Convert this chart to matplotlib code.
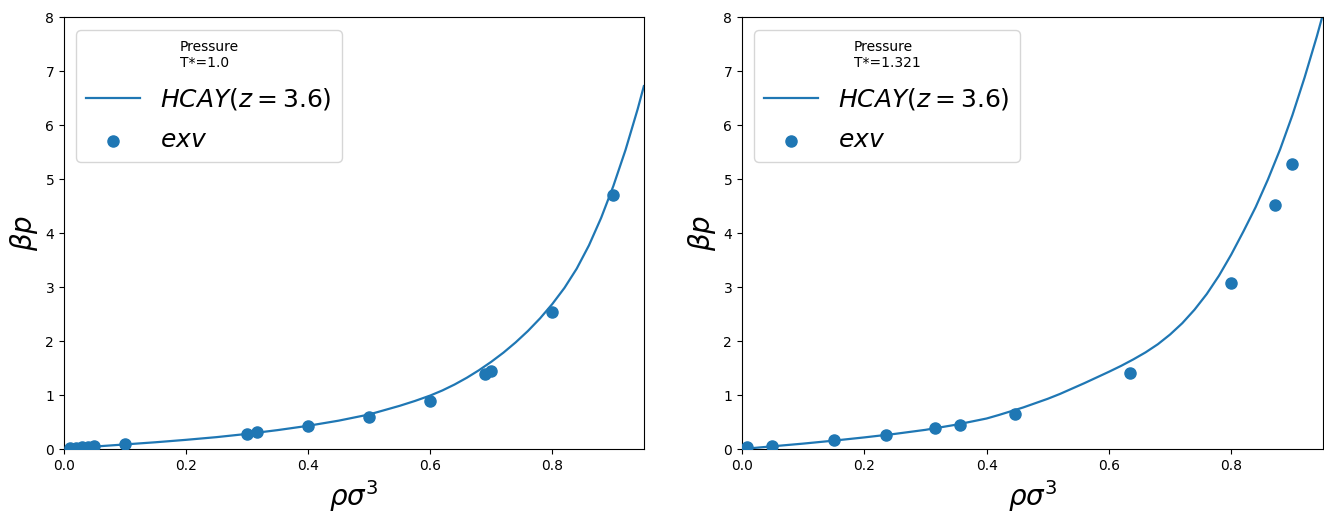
import matplotlib
matplotlib.use("Agg")
import matplotlib.pyplot as plt

# HCAY curve and simulation points, T*=1.0
rho_fit_1 = [0.0, 0.05, 0.1, 0.15, 0.2, 0.25, 0.3, 0.35, 0.4, 0.45, 0.5, 0.55,
             0.575, 0.6, 0.62, 0.64, 0.66, 0.68, 0.7, 0.72, 0.74, 0.76, 0.78,
             0.8, 0.82, 0.84, 0.86, 0.88, 0.9, 0.92, 0.94, 0.95]
p_fit_1 = [0.0, 0.045, 0.085, 0.125, 0.17, 0.22, 0.28, 0.35, 0.43, 0.525, 0.64,
           0.80, 0.89, 0.99, 1.085, 1.195, 1.32, 1.46, 1.615, 1.785, 1.975,
           2.185, 2.42, 2.685, 2.985, 3.34, 3.77, 4.28, 4.87, 5.54, 6.30, 6.72]
rho_exv_1 = [0.01, 0.02, 0.03, 0.04, 0.05, 0.1, 0.3, 0.316, 0.4, 0.5, 0.6,
             0.69, 0.7, 0.8, 0.9]
p_exv_1 = [0.01, 0.02, 0.03, 0.04, 0.05, 0.09, 0.28, 0.31, 0.42, 0.59, 0.89,
           1.38, 1.45, 2.53, 4.71]

# HCAY curve and simulation points, T*=1.321
rho_fit_2 = [0.0, 0.05, 0.1, 0.15, 0.2, 0.25, 0.3, 0.35, 0.4, 0.42, 0.44, 0.46,
             0.48, 0.5, 0.52, 0.54, 0.56, 0.58, 0.6, 0.62, 0.64, 0.66, 0.68,
             0.7, 0.72, 0.74, 0.76, 0.78, 0.8, 0.82, 0.84, 0.86, 0.88, 0.9,
             0.92, 0.94, 0.95]
p_fit_2 = [0.0, 0.05, 0.1, 0.155, 0.215, 0.28, 0.355, 0.45, 0.565, 0.63, 0.70,
           0.77, 0.85, 0.93, 1.02, 1.12, 1.22, 1.325, 1.43, 1.54, 1.66, 1.79,
           1.94, 2.12, 2.33, 2.58, 2.87, 3.21, 3.60, 4.03, 4.48, 4.99, 5.55,
           6.18, 6.88, 7.64, 8.05]
rho_exv_2 = [0.008, 0.049, 0.151, 0.235, 0.316, 0.357, 0.446, 0.635, 0.8,
             0.871, 0.9]
p_exv_2 = [0.03, 0.06, 0.16, 0.26, 0.38, 0.45, 0.64, 1.41, 3.07, 4.51, 5.27]

panels = [
    (rho_fit_1, p_fit_1, rho_exv_1, p_exv_1, "Pressure\nT*=1.0"),
    (rho_fit_2, p_fit_2, rho_exv_2, p_exv_2, "Pressure\nT*=1.321"),
]

fig = plt.figure(figsize=(13.24, 5.17), dpi=100)
boxes = [[0.0483, 0.1315, 0.438, 0.8356], [0.5604, 0.1315, 0.4388, 0.8356]]

for box, (xf, yf, xe, ye, title) in zip(boxes, panels):
    ax = fig.add_axes(box)
    ax.plot(xf, yf, color="C0", lw=1.6, label=r"$HCAY(z=3.6)$")
    ax.scatter(xe, ye, s=64, color="C0", label=r"$exv$", zorder=3)
    ax.set_xlim(0, 0.95)
    ax.set_ylim(0, 8)
    ax.set_xlabel(r"$\rho\sigma^3$", fontsize=20)
    ax.set_ylabel(r"$\beta p$", fontsize=20)
    ax.legend(loc="upper left", fontsize=18, title=title, title_fontsize=10,
              handlelength=2.15, labelspacing=0.65)

fig.savefig("out.png", dpi=100)
